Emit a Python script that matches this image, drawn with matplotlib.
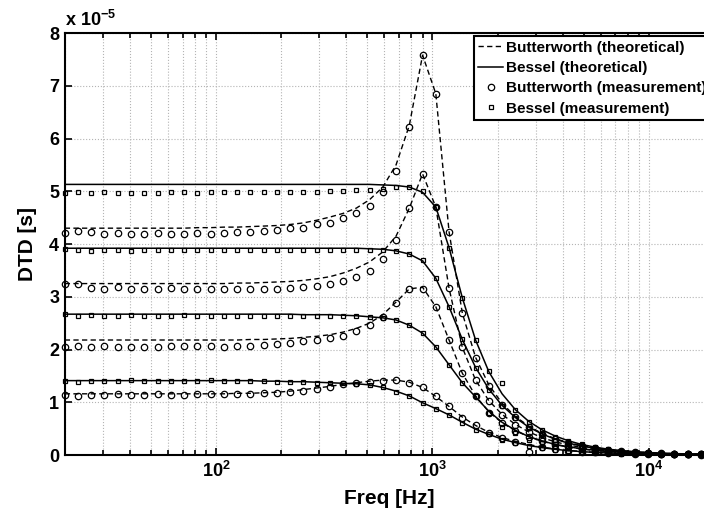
import matplotlib.pyplot as plt
import numpy as np
from matplotlib.ticker import LogLocator, FuncFormatter, NullFormatter

# frequency points (Hz), log spaced 20 Hz .. 20 kHz
freq = [20, 23.0, 26.5, 30.5, 35.2, 40.5, 46.6, 53.7, 61.8, 71.1,
        81.9, 94.3, 108.6, 125.0, 144.0, 165.8, 190.9, 219.8, 253.1, 291.4,
        335.5, 386.3, 444.8, 512.2, 589.7, 679.0, 781.9, 900.3, 1036.6, 1193.6,
        1374.3, 1582.4, 1822.0, 2097.9, 2415.6, 2781.4, 3202.6, 3687.6, 4246.0, 4889.0,
        5629.4, 6481.8, 7463.4, 8593.6, 9894.9, 11393, 13118, 15105, 17392, 20000]

# DTD values in units of 1e-5 s
# ---- Butterworth, theoretical ----
bw1_th = [1.16, 1.16, 1.16, 1.16, 1.16, 1.16, 1.16, 1.16, 1.16, 1.16,
          1.16, 1.16, 1.16, 1.17, 1.17, 1.18, 1.19, 1.21, 1.24, 1.27,
          1.30, 1.34, 1.37, 1.40, 1.42, 1.42, 1.38, 1.28, 1.11, 0.92,
          0.72, 0.56, 0.43, 0.33, 0.26, 0.20, 0.15, 0.115, 0.088, 0.067,
          0.051, 0.039, 0.030, 0.023, 0.017, 0.013, 0.010, 0.008, 0.006, 0.005]
bw2_th = [2.18, 2.18, 2.18, 2.18, 2.18, 2.18, 2.18, 2.18, 2.18, 2.18,
          2.18, 2.18, 2.18, 2.18, 2.19, 2.19, 2.20, 2.21, 2.23, 2.25,
          2.28, 2.33, 2.40, 2.50, 2.66, 2.90, 3.15, 3.18, 2.81, 2.18,
          1.55, 1.12, 0.82, 0.61, 0.46, 0.35, 0.26, 0.20, 0.15, 0.114,
          0.086, 0.065, 0.049, 0.037, 0.028, 0.021, 0.016, 0.012, 0.009, 0.007]
bw3_th = [3.25, 3.25, 3.25, 3.25, 3.25, 3.25, 3.25, 3.25, 3.25, 3.25,
          3.25, 3.25, 3.25, 3.26, 3.26, 3.27, 3.28, 3.29, 3.31, 3.34,
          3.38, 3.45, 3.54, 3.66, 3.85, 4.15, 4.68, 5.33, 4.70, 3.16,
          2.04, 1.42, 1.03, 0.77, 0.58, 0.44, 0.33, 0.25, 0.19, 0.143,
          0.108, 0.082, 0.062, 0.047, 0.035, 0.027, 0.020, 0.015, 0.012, 0.009]
bw4_th = [4.30, 4.30, 4.30, 4.30, 4.30, 4.30, 4.30, 4.30, 4.30, 4.30,
          4.31, 4.31, 4.32, 4.32, 4.33, 4.34, 4.35, 4.37, 4.40, 4.45,
          4.51, 4.58, 4.68, 4.84, 5.08, 5.50, 6.25, 7.58, 6.85, 4.23,
          2.69, 1.85, 1.33, 0.98, 0.73, 0.55, 0.41, 0.31, 0.235, 0.177,
          0.133, 0.100, 0.076, 0.057, 0.043, 0.033, 0.025, 0.019, 0.014, 0.011]

# ---- Bessel, theoretical ----
bs1_th = [1.41, 1.41, 1.41, 1.41, 1.41, 1.41, 1.41, 1.41, 1.41, 1.41,
          1.41, 1.41, 1.41, 1.41, 1.41, 1.40, 1.40, 1.39, 1.39, 1.38,
          1.37, 1.36, 1.35, 1.33, 1.28, 1.21, 1.12, 0.99, 0.88, 0.76,
          0.62, 0.49, 0.39, 0.30, 0.235, 0.18, 0.14, 0.108, 0.083, 0.064,
          0.049, 0.038, 0.029, 0.022, 0.017, 0.013, 0.010, 0.008, 0.006, 0.005]
bs2_th = [2.67, 2.67, 2.67, 2.67, 2.67, 2.67, 2.67, 2.67, 2.67, 2.67,
          2.67, 2.67, 2.67, 2.67, 2.67, 2.67, 2.67, 2.67, 2.66, 2.66,
          2.66, 2.65, 2.64, 2.62, 2.60, 2.56, 2.46, 2.31, 2.05, 1.71,
          1.37, 1.10, 0.83, 0.62, 0.47, 0.35, 0.27, 0.20, 0.155, 0.118,
          0.090, 0.068, 0.052, 0.040, 0.030, 0.023, 0.017, 0.013, 0.010, 0.008]
bs3_th = [3.92, 3.92, 3.92, 3.92, 3.92, 3.92, 3.92, 3.92, 3.92, 3.92,
          3.92, 3.92, 3.92, 3.92, 3.92, 3.92, 3.92, 3.92, 3.92, 3.92,
          3.92, 3.92, 3.92, 3.91, 3.90, 3.87, 3.81, 3.68, 3.35, 2.81,
          2.19, 1.66, 1.25, 0.94, 0.71, 0.53, 0.40, 0.30, 0.225, 0.17,
          0.127, 0.095, 0.072, 0.054, 0.041, 0.031, 0.023, 0.017, 0.013, 0.010]
bs4_th = [5.13, 5.13, 5.13, 5.13, 5.13, 5.13, 5.13, 5.13, 5.13, 5.13,
          5.13, 5.13, 5.13, 5.13, 5.13, 5.13, 5.13, 5.13, 5.13, 5.13,
          5.13, 5.13, 5.13, 5.13, 5.12, 5.11, 5.08, 4.98, 4.70, 3.93,
          2.98, 2.18, 1.58, 1.16, 0.86, 0.64, 0.48, 0.36, 0.27, 0.20,
          0.15, 0.11, 0.085, 0.064, 0.048, 0.036, 0.027, 0.020, 0.015, 0.011]

# ---- Butterworth, measurement ----
bw1_ms = [1.14, 1.12, 1.13, 1.13, 1.15, 1.14, 1.13, 1.15, 1.14, 1.14,
          1.15, 1.15, 1.15, 1.16, 1.16, 1.18, 1.18, 1.20, 1.22, 1.26,
          1.29, 1.34, 1.37, 1.39, 1.41, 1.42, 1.37, 1.28, 1.11, 0.92,
          0.71, 0.56, 0.42, 0.33, 0.25, 0.06, 0.15, 0.11, 0.085, 0.065,
          0.05, 0.04, 0.03, 0.025, 0.02, 0.015, 0.012, 0.01, 0.008, 0.006]
bw2_ms = [2.05, 2.06, 2.04, 2.07, 2.05, 2.05, 2.05, 2.05, 2.06, 2.06,
          2.06, 2.06, 2.05, 2.06, 2.07, 2.09, 2.11, 2.13, 2.16, 2.18,
          2.21, 2.26, 2.36, 2.46, 2.62, 2.88, 3.14, 3.15, 2.81, 2.18,
          1.55, 1.12, 0.80, 0.60, 0.45, 0.34, 0.26, 0.19, 0.145, 0.11,
          0.085, 0.065, 0.05, 0.038, 0.03, 0.022, 0.017, 0.013, 0.01, 0.008]
bw3_ms = [3.24, 3.25, 3.17, 3.14, 3.18, 3.14, 3.14, 3.14, 3.16, 3.14,
          3.14, 3.14, 3.14, 3.14, 3.14, 3.14, 3.15, 3.16, 3.19, 3.21,
          3.25, 3.30, 3.38, 3.49, 3.71, 4.08, 4.68, 5.33, 4.71, 3.16,
          2.04, 1.42, 1.02, 0.76, 0.57, 0.43, 0.32, 0.24, 0.18, 0.14,
          0.105, 0.08, 0.06, 0.046, 0.034, 0.026, 0.02, 0.015, 0.011, 0.009]
bw4_ms = [4.20, 4.25, 4.22, 4.19, 4.21, 4.19, 4.19, 4.20, 4.19, 4.19,
          4.20, 4.19, 4.21, 4.22, 4.22, 4.24, 4.27, 4.30, 4.30, 4.38,
          4.40, 4.49, 4.58, 4.73, 4.98, 5.39, 6.22, 7.58, 6.85, 4.23,
          2.69, 1.83, 1.30, 0.95, 0.72, 0.54, 0.40, 0.30, 0.23, 0.17,
          0.13, 0.098, 0.074, 0.056, 0.042, 0.032, 0.024, 0.018, 0.014, 0.011]

# ---- Bessel, measurement ----
bs1_ms = [1.41, 1.39, 1.40, 1.41, 1.41, 1.42, 1.40, 1.40, 1.41, 1.40,
          1.41, 1.42, 1.40, 1.40, 1.40, 1.40, 1.39, 1.39, 1.38, 1.37,
          1.36, 1.36, 1.35, 1.33, 1.28, 1.20, 1.12, 0.99, 0.88, 0.76,
          0.60, 0.47, 0.39, 0.28, 0.23, 0.17, 0.135, 0.10, 0.08, 0.06,
          0.047, 0.036, 0.028, 0.021, 0.016, 0.012, 0.01, 0.008, 0.006, 0.005]
bs2_ms = [2.67, 2.64, 2.66, 2.63, 2.64, 2.65, 2.64, 2.64, 2.64, 2.65,
          2.64, 2.64, 2.64, 2.64, 2.64, 2.64, 2.64, 2.63, 2.63, 2.64,
          2.64, 2.64, 2.64, 2.62, 2.60, 2.56, 2.46, 2.31, 2.05, 1.71,
          1.37, 1.11, 0.79, 0.54, 0.41, 0.28, 0.22, 0.17, 0.13, 0.10,
          0.075, 0.058, 0.045, 0.034, 0.026, 0.02, 0.015, 0.012, 0.009, 0.007]
bs3_ms = [3.90, 3.89, 3.87, 3.89, 3.89, 3.87, 3.89, 3.88, 3.88, 3.89,
          3.89, 3.89, 3.89, 3.89, 3.89, 3.89, 3.89, 3.89, 3.89, 3.89,
          3.89, 3.89, 3.89, 3.89, 3.88, 3.86, 3.81, 3.70, 3.35, 2.81,
          2.19, 1.65, 1.24, 0.92, 0.70, 0.52, 0.40, 0.29, 0.22, 0.165,
          0.125, 0.093, 0.07, 0.053, 0.04, 0.03, 0.023, 0.017, 0.013, 0.01]
bs4_ms = [4.97, 4.98, 4.96, 4.98, 4.97, 4.96, 4.97, 4.97, 4.98, 4.98,
          4.97, 4.98, 4.98, 4.98, 4.98, 4.98, 4.98, 4.99, 4.99, 4.99,
          5.00, 5.01, 5.02, 5.02, 5.05, 5.09, 5.09, 5.00, 4.71, 3.92,
          2.98, 2.18, 1.60, 1.37, 0.85, 0.63, 0.47, 0.35, 0.26, 0.20,
          0.15, 0.11, 0.083, 0.063, 0.047, 0.035, 0.026, 0.02, 0.015, 0.011]

labels = ['Butterworth (theoretical)', 'Bessel (theoretical)',
          'Butterworth (measurement)', 'Bessel (measurement)']

plt.rcParams['font.family'] = 'Liberation Sans'
plt.rcParams['font.weight'] = 'bold'
plt.rcParams['mathtext.fontset'] = 'custom'
plt.rcParams['mathtext.rm'] = 'Liberation Sans:bold'
plt.rcParams['mathtext.bf'] = 'Liberation Sans:bold'
plt.rcParams['mathtext.default'] = 'rm'

fig = plt.figure(figsize=(7.04, 5.15), dpi=100)
# axes runs past the right edge of the picture (as in the original crop)
ax = fig.add_axes([0.092, 0.1165, 0.9222, 0.8194])

handles = [None] * 4
for y in [bw1_th, bw2_th, bw3_th, bw4_th]:
    handles[0], = ax.plot(freq, y, color='k', ls='--', lw=1.0, dashes=(3.8, 2.4))
for y in [bs1_th, bs2_th, bs3_th, bs4_th]:
    handles[1], = ax.plot(freq, y, color='k', ls='-', lw=1.1)
for y in [bw1_ms, bw2_ms, bw3_ms, bw4_ms]:
    handles[2], = ax.plot(freq, y, ls='none', marker='o', ms=4.6, mfc='none',
                          mec='k', mew=0.9, clip_on=False)
for y in [bs1_ms, bs2_ms, bs3_ms, bs4_ms]:
    handles[3], = ax.plot(freq, y, ls='none', marker='s', ms=3.5, mfc='none',
                          mec='k', mew=0.9, clip_on=False)

ax.set_xscale('log')
ax.set_xlim(20, 20000)
ax.set_ylim(0, 8)
ax.set_yticks(range(9))
ax.set_yticklabels([str(v) for v in range(9)])
ax.xaxis.set_major_locator(LogLocator(base=10, numticks=10))
ax.xaxis.set_minor_locator(LogLocator(base=10, subs=np.arange(2, 10), numticks=20))
ax.xaxis.set_major_formatter(FuncFormatter(lambda v, p: f'$10^{{{int(round(np.log10(v)))}}}$'))
ax.xaxis.set_minor_formatter(NullFormatter())

ax.grid(True, which='major', axis='both', ls=':', color='#b4b4b4', lw=0.8)
ax.grid(True, which='minor', axis='x', ls=':', color='#b4b4b4', lw=0.8)
ax.set_axisbelow(True)

ax.tick_params(which='both', direction='in', top=True, right=True, width=1.2,
               labelsize=13, pad=4)
ax.tick_params(which='major', length=5)
ax.tick_params(which='minor', length=3.5)
for s in ax.spines.values():
    s.set_linewidth(1.5)

ax.set_xlabel('Freq [Hz]', fontsize=15, fontweight='bold', labelpad=6)
ax.set_ylabel('DTD [s]', fontsize=15, fontweight='bold', labelpad=9)
ax.text(0.0, 1.006, r'x 10$^{-5}$', transform=ax.transAxes, ha='left', va='bottom',
        fontsize=13, fontweight='bold')

leg = ax.legend(handles, labels, loc='upper left', bbox_to_anchor=(0.630, 0.993),
                fontsize=11, frameon=True, fancybox=False, edgecolor='k',
                framealpha=1, handlelength=1.6, handletextpad=0.2,
                labelspacing=0.42, borderpad=0.3, borderaxespad=0)
leg.get_frame().set_linewidth(1.5)

plt.savefig('out.png', dpi=100)
